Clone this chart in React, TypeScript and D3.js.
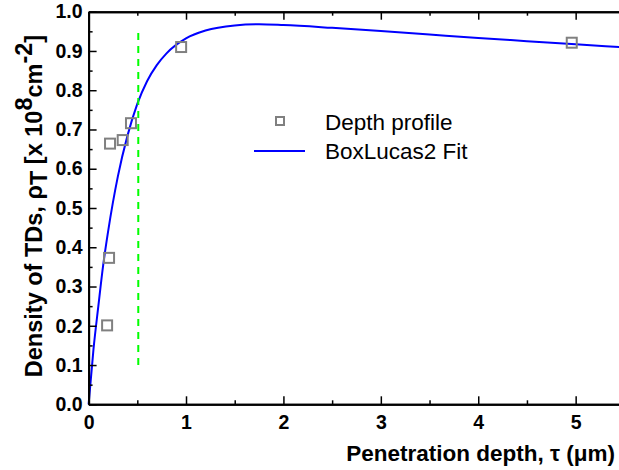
import React, { useEffect, useRef } from "react";
import * as d3 from "d3";

const W = 619;
const H = 470;

// Depth profile data points
const depthX = [0.19, 0.21, 0.22, 0.35, 0.435, 0.95, 4.96];
const depthY = [0.201, 0.373, 0.664, 0.673, 0.716, 0.91, 0.921];

// BoxLucas2 fit curve
const fitX = [0, 0.05, 0.1, 0.15, 0.2, 0.3, 0.4, 0.5, 0.6, 0.7, 0.8, 1.0, 1.2, 1.5, 1.75, 2.0, 2.5, 3.0, 3.5, 4.0, 4.5, 5.0, 5.45];
const fitY = [0, 0.14, 0.25, 0.355, 0.44, 0.58, 0.685, 0.765, 0.823, 0.864, 0.894, 0.932, 0.952, 0.965, 0.968, 0.966, 0.959, 0.951, 0.942, 0.933, 0.925, 0.917, 0.91];

// vertical dashed marker
const markerX = 0.51;
const markerY = [0.1, 0.95];

const xTicks = [0, 1, 2, 3, 4, 5];
const xMinor = [0.5, 1.5, 2.5, 3.5, 4.5, 5.5];
const yTicks = [0, 0.1, 0.2, 0.3, 0.4, 0.5, 0.6, 0.7, 0.8, 0.9, 1.0];
const yMinor = [0.05, 0.15, 0.25, 0.35, 0.45, 0.55, 0.65, 0.75, 0.85, 0.95];

const legendItems = ["Depth profile", "BoxLucas2 Fit"];

export default function App() {
  const ref = useRef<SVGSVGElement>(null);
  const x0 = 88.6;
  const yBot = 404.3;
  const yTop = 11.7;
  const xScale = d3.scaleLinear().domain([0, 5.445]).range([x0, W]);
  const yScale = d3.scaleLinear().domain([0, 1]).range([yBot, yTop]);

  useEffect(() => {
    const svg = d3.select(ref.current);
    svg.selectAll(".ax").remove();
    const font = "'Liberation Sans', Arial, sans-serif";
    const gl = svg.append("g").attr("class", "ax").attr("transform", `translate(${x0},0)`);
    gl.call(
      d3.axisLeft(yScale).tickValues(yTicks).tickSize(-8).tickSizeOuter(0).tickPadding(6).tickFormat(d3.format(".1f"))
    );
    const glm = svg.append("g").attr("class", "ax").attr("transform", `translate(${x0},0)`);
    glm.call(d3.axisLeft(yScale).tickValues(yMinor).tickSize(-4).tickSizeOuter(0).tickFormat(() => ""));
    const gb = svg.append("g").attr("class", "ax").attr("transform", `translate(0,${yBot})`);
    gb.call(d3.axisBottom(xScale).tickValues(xTicks).tickSize(-8).tickSizeOuter(0).tickPadding(11).tickFormat(d3.format("d")));
    const gbm = svg.append("g").attr("class", "ax").attr("transform", `translate(0,${yBot})`);
    gbm.call(d3.axisBottom(xScale).tickValues(xMinor.filter((v) => v < 5.445)).tickSize(-4).tickSizeOuter(0).tickFormat(() => ""));
    const gt = svg.append("g").attr("class", "ax").attr("transform", `translate(0,${yTop})`);
    gt.call(d3.axisTop(xScale).tickValues(xTicks).tickSize(-8).tickSizeOuter(0).tickFormat(() => ""));
    const gtm = svg.append("g").attr("class", "ax").attr("transform", `translate(0,${yTop})`);
    gtm.call(d3.axisTop(xScale).tickValues(xMinor.filter((v) => v < 5.445)).tickSize(-4).tickSizeOuter(0).tickFormat(() => ""));

    svg.selectAll(".ax path.domain").attr("stroke", "#000").attr("stroke-width", 2);
    svg.selectAll(".ax line").attr("stroke", "#000").attr("stroke-width", 1.5);
    svg
      .selectAll(".ax text")
      .attr("font-family", font)
      .attr("font-weight", "bold")
      .attr("font-size", 19.5)
      .attr("fill", "#000");
  }, []);

  const fitPts = fitX.map((v, i) => [v, fitY[i]] as [number, number]);
  const line = d3
    .line<[number, number]>()
    .x((d) => xScale(d[0]))
    .y((d) => yScale(d[1]))
    .curve(d3.curveMonotoneX);

  const font = "'Liberation Sans', Arial, sans-serif";
  const sq = 10;

  return (
    <svg ref={ref} width={W} height={H} style={{ position: "absolute", left: 0, top: 0, background: "#fff" }}>
      <rect x={0} y={0} width={W} height={H} fill="#fff" />
      <path d={line(fitPts) || ""} fill="none" stroke="#0000ff" strokeWidth={2} />
      <line
        x1={xScale(markerX)}
        x2={xScale(markerX)}
        y1={yScale(markerY[0])}
        y2={yScale(markerY[1])}
        stroke="#00ff00"
        strokeWidth={2}
        strokeDasharray="7,6"
      />
      {depthX.map((v, i) => (
        <rect
          key={i}
          x={xScale(v) - sq / 2}
          y={yScale(depthY[i]) - sq / 2}
          width={sq}
          height={sq}
          fill="none"
          stroke="#808080"
          strokeWidth={2}
        />
      ))}
      {/* legend */}
      <rect x={280 - 4} y={121 - 4} width={8} height={8} fill="none" stroke="#808080" strokeWidth={2} />
      <text x={325} y={130} fontFamily={font} fontSize={22.5} fill="#000">
        {legendItems[0]}
      </text>
      <line x1={254} x2={305} y1={151} y2={151} stroke="#0000ff" strokeWidth={2} />
      <text x={325} y={159} fontFamily={font} fontSize={22.5} fill="#000">
        {legendItems[1]}
      </text>
      {/* axis titles */}
      <text x={615} y={461} textAnchor="end" fontFamily={font} fontWeight="bold" fontSize={22.5} fill="#000">
        Penetration depth, τ (μm)
      </text>
      <text
        transform={`translate(42,${(26 + 386) / 2}) rotate(-90)`}
        textAnchor="middle"
        fontFamily={font}
        fontWeight="bold"
        fontSize={23.5}
        fill="#000"
      >
        Density of TDs, ρ
        <tspan dy={5}>T</tspan>
        <tspan dy={-5}> [x 10</tspan>
        <tspan dy={-10}>8</tspan>
        <tspan dy={10}>cm</tspan>
        <tspan dy={-10}>-2</tspan>
        <tspan dy={10}>]</tspan>
      </text>
    </svg>
  );
}
